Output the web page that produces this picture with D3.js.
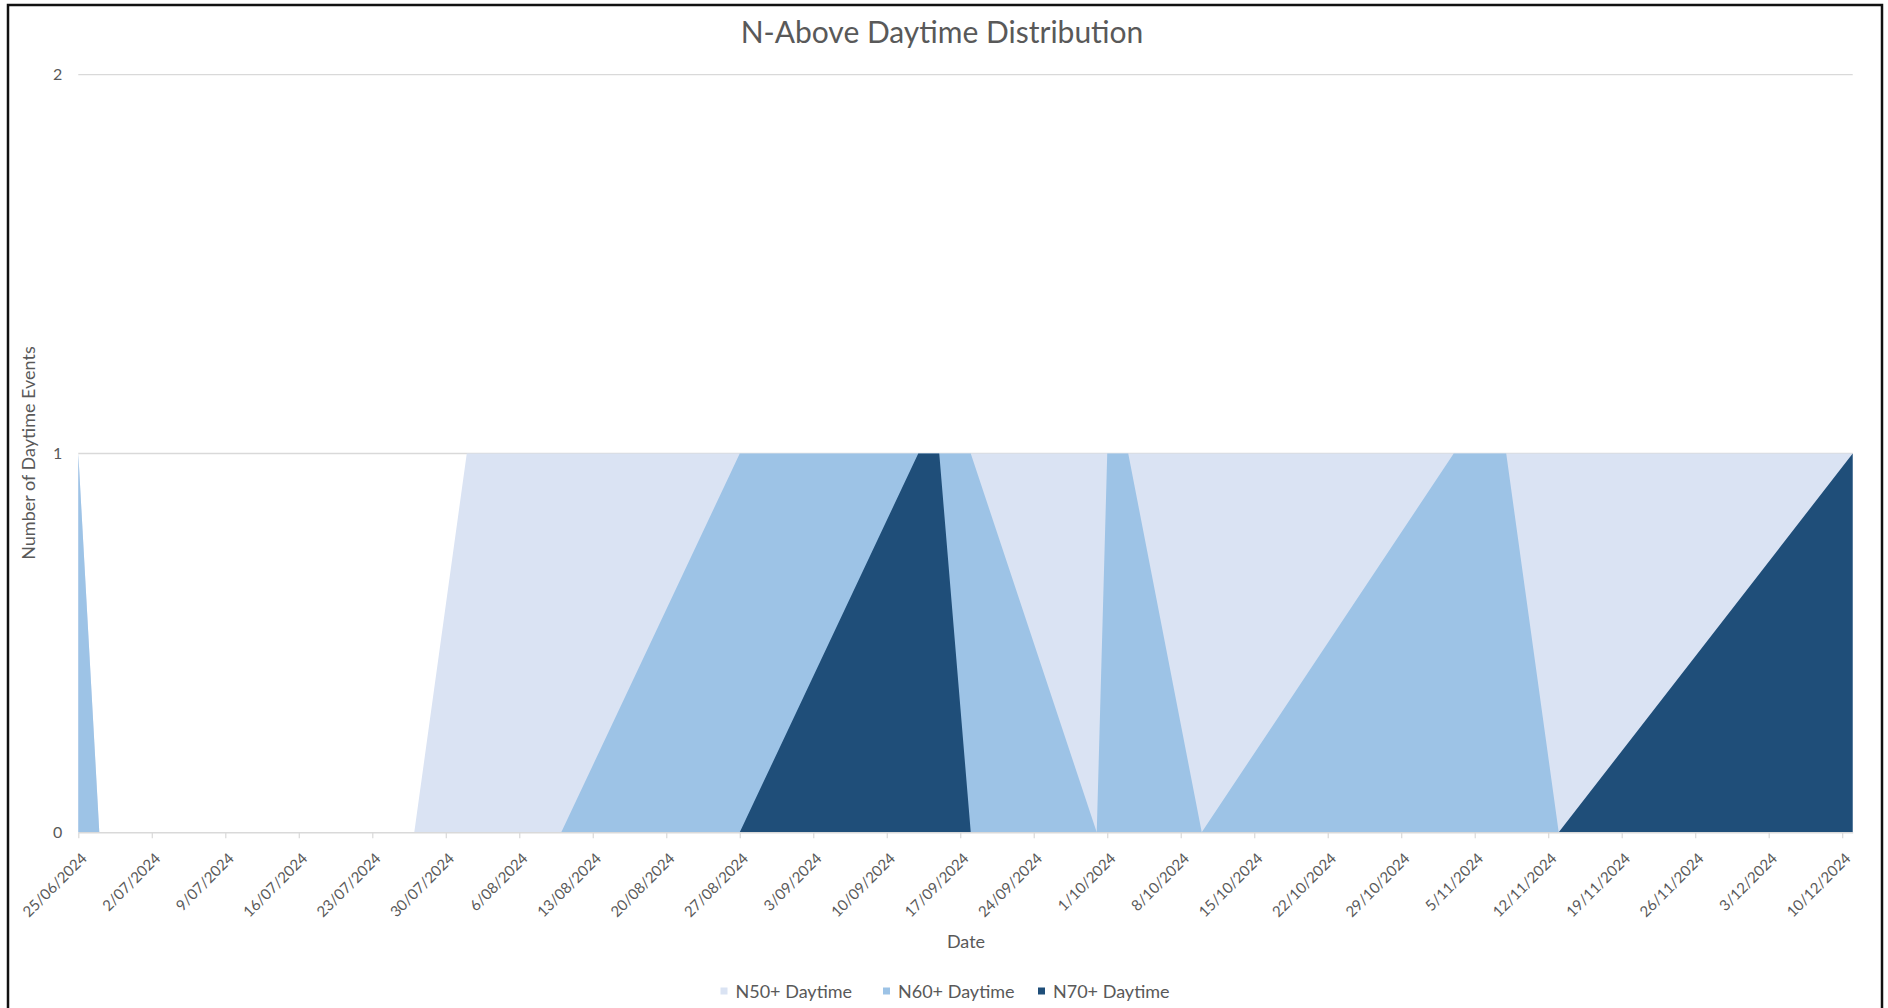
<!DOCTYPE html>
<html>
<head>
<meta charset="utf-8">
<script src="https://cdn.jsdelivr.net/npm/d3@7"></script>
<style>
  html, body { margin: 0; padding: 0; background: #ffffff; }
  svg { display: block; font-family: Lato, "Open Sans", sans-serif; }
</style>
</head>
<body>
<svg id="chart" width="1888" height="1008"></svg>
<script>
// Dates at which the daytime counts change (dd/mm/yyyy)
const dates = [
  "25/06/2024", "27/06/2024", "27/07/2024", "01/08/2024", "10/08/2024",
  "27/08/2024", "13/09/2024", "15/09/2024", "18/09/2024", "30/09/2024",
  "01/10/2024", "03/10/2024", "10/10/2024", "03/11/2024", "08/11/2024",
  "13/11/2024", "11/12/2024"
];

// Number of daytime events per threshold
const n50 = [1, 0, 0, 1, 1, 1, 1, 1, 1, 1, 1, 1, 1, 1, 1, 1, 1];
const n60 = [1, 0, 0, 0, 0, 1, 1, 1, 1, 0, 1, 1, 0, 1, 1, 0, 0];
const n70 = [0, 0, 0, 0, 0, 0, 1, 1, 0, 0, 0, 0, 0, 0, 0, 0, 1];

const seriesNames = ["N50+ Daytime", "N60+ Daytime", "N70+ Daytime"];
const seriesColors = ["#dae3f3", "#9dc3e6", "#1f4e79"];

// Weekly date ticks on the horizontal axis
const xTickLabels = [
  "25/06/2024", "2/07/2024", "9/07/2024", "16/07/2024", "23/07/2024",
  "30/07/2024", "6/08/2024", "13/08/2024", "20/08/2024", "27/08/2024",
  "3/09/2024", "10/09/2024", "17/09/2024", "24/09/2024", "1/10/2024",
  "8/10/2024", "15/10/2024", "22/10/2024", "29/10/2024", "5/11/2024",
  "12/11/2024", "19/11/2024", "26/11/2024", "3/12/2024", "10/12/2024"
];
const yTickValues = [0, 1, 2];

const parse = d3.timeParse("%d/%m/%Y");
const fmt = d3.timeFormat("%-d/%m/%Y");
const parsedDates = dates.map(parse);

const series = [n50, n60, n70].map((vals, i) => ({
  name: seriesNames[i],
  color: seriesColors[i],
  points: vals.map((v, j) => ({ date: parsedDates[j], value: v }))
}));

const svg = d3.select("#chart");
const textColor = "#595959";
const gridColor = "#d9d9d9";

const plot = { left: 78.3, right: 1852.7, top: 74.7, bottom: 832.3 };

const x = d3.scaleTime()
  .domain(d3.extent(parsedDates))
  .range([plot.left, plot.right]);

const y = d3.scaleLinear()
  .domain([0, 2])
  .range([plot.bottom, plot.top]);

// Outer frame
svg.append("rect")
  .attr("x", 8).attr("y", 5)
  .attr("width", 1874).attr("height", 1040)
  .attr("fill", "none")
  .attr("stroke", "#111")
  .attr("stroke-width", 2.5);

// Title
svg.append("text")
  .attr("x", 942).attr("y", 43)
  .attr("text-anchor", "middle")
  .attr("fill", textColor)
  .attr("font-size", 30)
  .text("N-Above Daytime Distribution");

// Horizontal gridlines
svg.append("g")
  .selectAll("line")
  .data(yTickValues.filter(v => v > 0))
  .join("line")
  .attr("x1", plot.left).attr("x2", plot.right)
  .attr("y1", d => y(d)).attr("y2", d => y(d))
  .attr("stroke", gridColor)
  .attr("stroke-width", 1.3);

// Overlapping areas, lowest threshold at the back
const area = d3.area()
  .x(d => x(d.date))
  .y0(y(0))
  .y1(d => y(d.value));

svg.append("g")
  .selectAll("path")
  .data(series)
  .join("path")
  .attr("d", d => area(d.points))
  .attr("fill", d => d.color);

// Bottom axis
const xAxis = d3.axisBottom(x)
  .tickValues(xTickLabels.map(parse))
  .tickFormat(fmt)
  .tickSize(6)
  .tickSizeOuter(0);

const gx = svg.append("g")
  .attr("transform", `translate(0,${plot.bottom})`)
  .call(xAxis);
gx.select(".domain").attr("stroke", gridColor).attr("stroke-width", 1.6);
gx.selectAll(".tick line").attr("stroke", gridColor).attr("stroke-width", 1.2);
gx.selectAll(".tick text")
  .attr("x", 0).attr("y", 0).attr("dy", 0)
  .attr("text-anchor", "end")
  .attr("transform", "translate(9,27) rotate(-45)")
  .attr("fill", textColor)
  .attr("font-size", 15)
  .attr("font-family", "Lato, sans-serif");

// Left axis labels
const yAxis = d3.axisLeft(y)
  .tickValues(yTickValues)
  .tickFormat(d3.format("d"))
  .tickSize(0)
  .tickPadding(16);

const gy = svg.append("g")
  .attr("transform", `translate(${plot.left},0)`)
  .call(yAxis);
gy.select(".domain").remove();
gy.selectAll(".tick text")
  .attr("fill", textColor)
  .attr("font-size", 16)
  .attr("font-family", "Lato, sans-serif");

// Axis titles
svg.append("text")
  .attr("x", 966).attr("y", 948)
  .attr("text-anchor", "middle")
  .attr("fill", textColor)
  .attr("font-size", 18)
  .text("Date");

svg.append("text")
  .attr("transform", "translate(34.5,453) rotate(-90)")
  .attr("text-anchor", "middle")
  .attr("fill", textColor)
  .attr("font-size", 18)
  .text("Number of Daytime Events");

// Legend
const legendX = [720.5, 883, 1038];
const legend = svg.append("g")
  .selectAll("g")
  .data(series)
  .join("g")
  .attr("transform", (d, i) => `translate(${legendX[i]},991)`);
legend.append("rect")
  .attr("x", 0).attr("y", -3.5)
  .attr("width", 7).attr("height", 7)
  .attr("fill", d => d.color);
legend.append("text")
  .attr("x", 15).attr("y", 0)
  .attr("dominant-baseline", "central")
  .attr("fill", textColor)
  .attr("font-size", 18)
  .text(d => d.name);
</script>
</body>
</html>
